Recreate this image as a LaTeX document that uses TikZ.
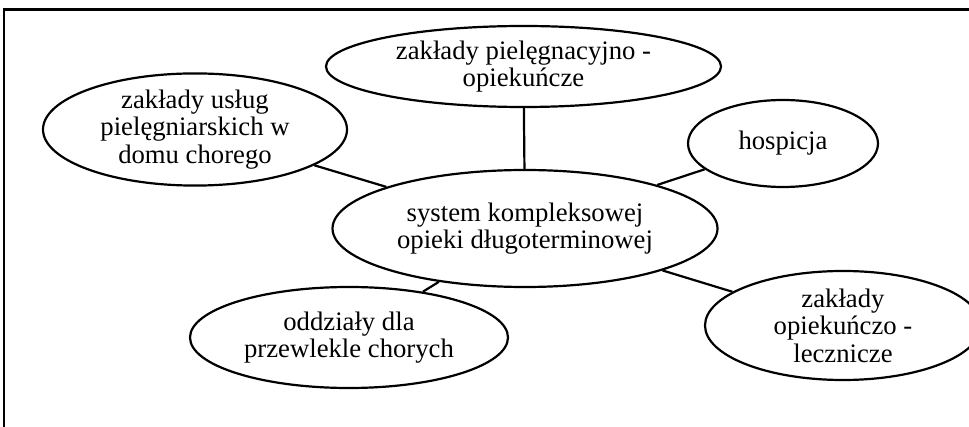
\documentclass[tikz,border=0pt]{standalone}
\usepackage{fontspec}
\setmainfont{Liberation Serif}
\usetikzlibrary{shapes.geometric}
\begin{document}
\begin{tikzpicture}[x=1pt,y=-1pt,
  oval/.style={draw, ellipse, line width=2.2pt, inner sep=0pt, align=center,
    font=\fontsize{26.7}{27.5}\selectfont},
  link/.style={line width=2.2pt}]
\useasboundingbox (0,0) rectangle (969,427);
\clip (0,0) rectangle (969,427);
\draw[line width=2.2pt] (4,460) -- (4,9.5) -- (990,9.5);
\node[oval, minimum width=395pt, minimum height=81pt] (t) at (523.5,66.5) {zakłady pielęgnacyjno -\\opiekuńcze};
\node[oval, minimum width=304pt, minimum height=91pt] (l) at (195,129.5) {zakłady usług\\pielęgniarskich w\\domu chorego};
\node[oval, minimum width=190pt, minimum height=87pt] (h) at (783,143.5) {hospicja};
\node[oval, minimum width=385pt, minimum height=117pt] (c) at (525,228.5) {system kompleksowej\\opieki długoterminowej};
\node[oval, minimum width=318pt, minimum height=101pt] (o) at (349,337.5) {oddziały dla\\przewlekle chorych};
\node[oval, minimum width=276pt, minimum height=109pt] (r) at (843,325.5) {zakłady\\opiekuńczo -\\lecznicze};
\draw[link] (t) -- (c);
\draw[link] (l) -- (c);
\draw[link] (h) -- (c);
\draw[link] (o) -- (c);
\draw[link] (r) -- (c);
\end{tikzpicture}
\end{document}
